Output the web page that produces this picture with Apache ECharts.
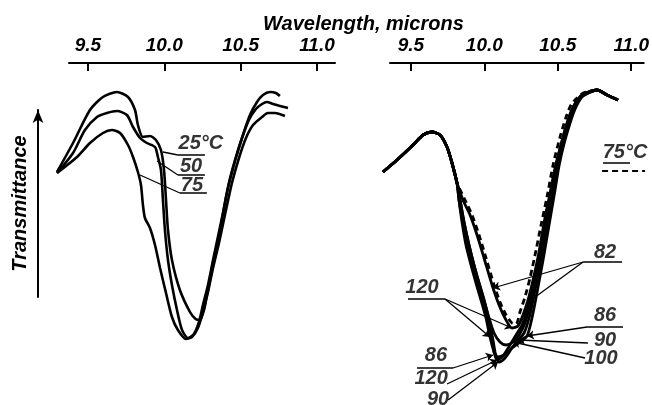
<!DOCTYPE html>
<html><head><meta charset="utf-8">
<script src="https://cdn.jsdelivr.net/npm/echarts@6/dist/echarts.min.js"></script>
<style>html,body{margin:0;padding:0;background:#fff}#c{width:652px;height:405px}</style>
</head><body><div id="c"></div>
<script>
// ---- tick labels ----
const tickValues = [9.5, 10.0, 10.5, 11.0];

// ---- left panel: wavelength (microns), transmittance (arbitrary units) ----
const left25 = [[9.297,228],[9.402,257],[9.513,290],[9.598,303],[9.690,308],[9.762,303],[9.808,290],[9.827,275],[9.860,263],[9.906,264],[9.945,260],[9.978,250],[9.998,230],[10.011,200],[10.024,170],[10.050,140],[10.102,110],[10.168,88],[10.205,81],[10.233,80],[10.260,90],[10.279,105],[10.306,125],[10.338,150],[10.371,175],[10.404,203],[10.430,220],[10.469,242],[10.515,265],[10.561,285],[10.607,298],[10.646,305],[10.692,308],[10.731,307],[10.757,304]];
const left50 = [[9.297,227],[9.402,247],[9.480,270],[9.559,283],[9.624,287],[9.690,289],[9.755,285],[9.795,273],[9.841,262],[9.886,257],[9.939,253],[9.958,243],[9.978,230],[9.991,200],[10.004,170],[10.024,140],[10.050,115],[10.083,90],[10.116,70],[10.155,62],[10.194,66],[10.227,78],[10.253,95],[10.286,115],[10.319,140],[10.351,163],[10.391,192],[10.423,217],[10.463,240],[10.509,262],[10.554,280],[10.600,291],[10.640,296],[10.672,298],[10.712,296],[10.757,294],[10.810,292]];
const left75 = [[9.297,227],[9.428,243],[9.513,257],[9.598,267],[9.657,270],[9.710,267],[9.762,255],[9.795,243],[9.827,228],[9.847,215],[9.860,195],[9.873,182],[9.906,172],[9.939,155],[9.972,132],[10.011,107],[10.050,83],[10.089,70],[10.142,61],[10.181,63],[10.220,72],[10.253,88],[10.286,108],[10.319,132],[10.358,157],[10.397,185],[10.443,217],[10.489,242],[10.535,262],[10.581,275],[10.640,283],[10.679,287],[10.725,287],[10.790,284]];

// ---- right panel: shared rise and tail, per-temperature middles ----
const rightRise = [[9.312,228],[9.404,240],[9.510,255],[9.576,265],[9.635,268],[9.688,265],[9.734,253],[9.767,237],[9.800,217]];
const rightTail = [[10.723,310],[10.789,305],[10.861,300]];
const right75 = [[9.853,200],[9.899,185],[9.945,165],[9.991,142],[10.044,115],[10.083,98],[10.123,85],[10.162,77],[10.189,76],[10.215,88],[10.248,103],[10.281,122],[10.321,150],[10.354,175],[10.393,203],[10.433,235],[10.479,263],[10.519,283],[10.551,295],[10.591,302],[10.631,307]];
const right82 = [[9.839,200],[9.886,185],[9.932,165],[9.978,142],[10.031,115],[10.077,95],[10.116,82],[10.162,72],[10.202,74],[10.235,85],[10.268,100],[10.301,120],[10.334,143],[10.360,165],[10.387,188],[10.420,210],[10.453,235],[10.492,257],[10.532,278],[10.571,293],[10.611,302],[10.650,306]];
const right86 = [[9.813,200],[9.839,178],[9.872,155],[9.905,135],[9.938,117],[9.971,100],[10.004,82],[10.031,62],[10.044,48],[10.070,43],[10.110,45],[10.162,52],[10.215,58],[10.261,64],[10.288,78],[10.314,97],[10.340,118],[10.367,140],[10.393,163],[10.420,187],[10.446,210],[10.472,234],[10.505,256],[10.545,277],[10.584,293],[10.631,304]];
const right90 = [[9.820,200],[9.846,178],[9.879,155],[9.912,135],[9.945,117],[9.978,100],[10.011,80],[10.037,60],[10.057,43],[10.077,38],[10.116,42],[10.162,52],[10.202,60],[10.242,67],[10.275,82],[10.301,100],[10.327,120],[10.354,142],[10.380,164],[10.406,187],[10.433,210],[10.459,234],[10.492,256],[10.532,277],[10.571,293],[10.617,304],[10.650,307]];
const right100 = [[9.820,200],[9.846,178],[9.879,155],[9.912,135],[9.945,117],[9.978,100],[10.011,82],[10.044,67],[10.083,58],[10.123,55],[10.169,58],[10.209,65],[10.248,77],[10.281,95],[10.314,117],[10.340,140],[10.373,164],[10.400,187],[10.426,210],[10.453,234],[10.486,256],[10.525,277],[10.565,293],[10.611,303],[10.650,307]];
const right120 = [[9.813,200],[9.833,178],[9.859,155],[9.892,135],[9.925,117],[9.958,100],[9.991,82],[10.017,63],[10.044,48],[10.064,40],[10.103,44],[10.149,55],[10.189,65],[10.228,75],[10.261,90],[10.294,108],[10.321,128],[10.347,150],[10.373,172],[10.400,195],[10.426,217],[10.459,240],[10.499,262],[10.538,282],[10.578,296],[10.624,305]];

// ---- annotation texts (anchor in data units) ----
const leftLabels = [{name:'25°C', value:[10.240,257]},{name:'50', value:[10.175,234]},{name:'75', value:[10.181,215]}];
const rightLabels = [{name:'82', value:[10.776,148]},{name:'120', value:[9.569,113]},{name:'86', value:[10.776,85]},{name:'90', value:[10.776,60]},{name:'100', value:[10.749,42]},{name:'86', value:[9.661,45]},{name:'120', value:[9.629,22]},{name:'90', value:[9.675,1]},{name:'75°C', value:[10.907,248]}];

// ---- leader lines ----
const leftLeaders = [[[9.991,248],[10.089,245]],[[9.952,239],[10.089,225]],[[9.841,225],[10.102,207]]];
const leftUnderlines = [[[10.089,245],[10.266,245]],[[10.089,225],[10.266,225]],[[10.102,207],[10.279,207]]];
const rightArrows = [[[10.631,138],[10.037,112]],[[10.631,138],[10.261,97]],[[9.721,101],[10.017,63]],[[9.721,101],[10.162,72]],[[10.657,73],[10.261,64]],[[10.663,57],[10.202,60]],[[10.644,42],[10.169,58]],[[9.774,32],[10.037,45]],[[9.734,16],[10.064,40]],[[9.741,0],[10.070,38]]];
const rightUnderlines = [[[10.631,138],[10.888,138]],[[9.477,101],[9.721,101]],[[10.657,73],[10.894,73]],[[9.536,32],[9.774,32]],[[10.762,237],[10.940,237]]];
const legendDash = [[[10.756,229],[11.039,229]]];

const FONT = {fontFamily:'Liberation Sans', fontStyle:'italic', fontWeight:'bold', color:'#000'};

function curve(data, gi, dashed){
  return {type:'line', xAxisIndex:gi, yAxisIndex:gi, data:data, symbol:'none', showSymbol:false,
    smooth:0.25, clip:false, silent:true,
    lineStyle:{color:'#000', width: gi===0 ? 2.6 : 2.8, type: dashed ? [6,4] : 'solid'}};
}
function segs(arr, gi, arrow, width, dashed){
  return {type:'lines', coordinateSystem:'cartesian2d', xAxisIndex:gi, yAxisIndex:gi, silent:true,
    symbol: arrow ? ['none','arrow'] : ['none','none'], symbolSize: 7,
    lineStyle:{color:'#000', width:width, opacity:1, type: dashed ? [6,4] : 'solid'},
    data: arr.map(function(c){return {coords:c};})};
}
function texts(arr, gi){
  return {type:'scatter', xAxisIndex:gi, yAxisIndex:gi, symbolSize:1, silent:true, clip:false,
    itemStyle:{color:'rgba(0,0,0,0)'},
    label:Object.assign({show:true, position:'inside', fontSize:20, formatter:function(p){return p.name;}}, FONT),
    data: arr};
}
function visAxis(gi, min, max){
  return {type:'value', gridIndex:gi, position:'top', min:min, max:max,
    axisLine:{show:true, onZero:false, lineStyle:{color:'#000', width:2}},
    axisTick:{show:true, inside:true, length:8, lineStyle:{color:'#000', width:2}, customValues:tickValues},
    axisLabel:Object.assign({show:true, margin:8, fontSize:19, customValues:tickValues,
      formatter:function(v){return v.toFixed(1);}}, FONT),
    splitLine:{show:false}};
}
function hidAxis(gi, min, max){
  return {type:'value', gridIndex:gi, min:min, max:max, show:false};
}

const chart = echarts.init(document.getElementById('c'), null, {renderer:'canvas'});
chart.setOption({
  animation:false,
  backgroundColor:'#fff',
  title:{text:'Wavelength, microns', left:258, top:9, textStyle:Object.assign({fontSize:20}, FONT)},
  grid:[
    {left:50, top:63, width:285, height:337},   // left curves
    {left:378, top:63, width:274, height:337},  // right curves
    {left:69, top:63, width:266, height:337},   // left visible axis
    {left:390, top:63, width:262, height:337},  // right visible axis
    {left:38, top:110, width:1, height:187}     // transmittance arrow
  ],
  xAxis:[
    hidAxis(0, 9.2512, 11.118),
    hidAxis(1, 9.2792, 11.085),
    visAxis(2, 9.376, 11.118),
    visAxis(3, 9.358, 11.085),
    {type:'value', gridIndex:4, show:false}
  ],
  yAxis:[
    {type:'value', gridIndex:0, min:0, max:337, show:false},
    {type:'value', gridIndex:1, min:0, max:337, show:false},
    {type:'value', gridIndex:2, min:0, max:337, show:false},
    {type:'value', gridIndex:3, min:0, max:337, show:false},
    {type:'value', gridIndex:4, min:0, max:1, position:'left',
      axisLine:{show:true, onZero:false, symbol:['none','arrow'], symbolSize:[8,13], lineStyle:{color:'#000', width:2}},
      axisTick:{show:false}, axisLabel:{show:false}, splitLine:{show:false},
      name:'Transmittance', nameLocation:'middle', nameGap:8, nameRotate:90,
      nameTextStyle:Object.assign({fontSize:20}, FONT)}
  ],
  series:[
    curve(left25,0), curve(left50,0), curve(left75,0),
    segs(leftLeaders,0,false,1.3), segs(leftUnderlines,0,false,1.6),
    texts(leftLabels,0),
    curve(rightRise.concat(right75, rightTail),1,true),
    curve(rightRise.concat(right82, rightTail),1),
    curve(rightRise.concat(right86, rightTail),1),
    curve(rightRise.concat(right90, rightTail),1),
    curve(rightRise.concat(right100, rightTail),1),
    curve(rightRise.concat(right120, rightTail),1),
    segs(rightArrows,1,true,1.3), segs(rightUnderlines,1,false,1.6), segs(legendDash,1,false,2,true),
    texts(rightLabels,1)
  ]
});
</script></body></html>
